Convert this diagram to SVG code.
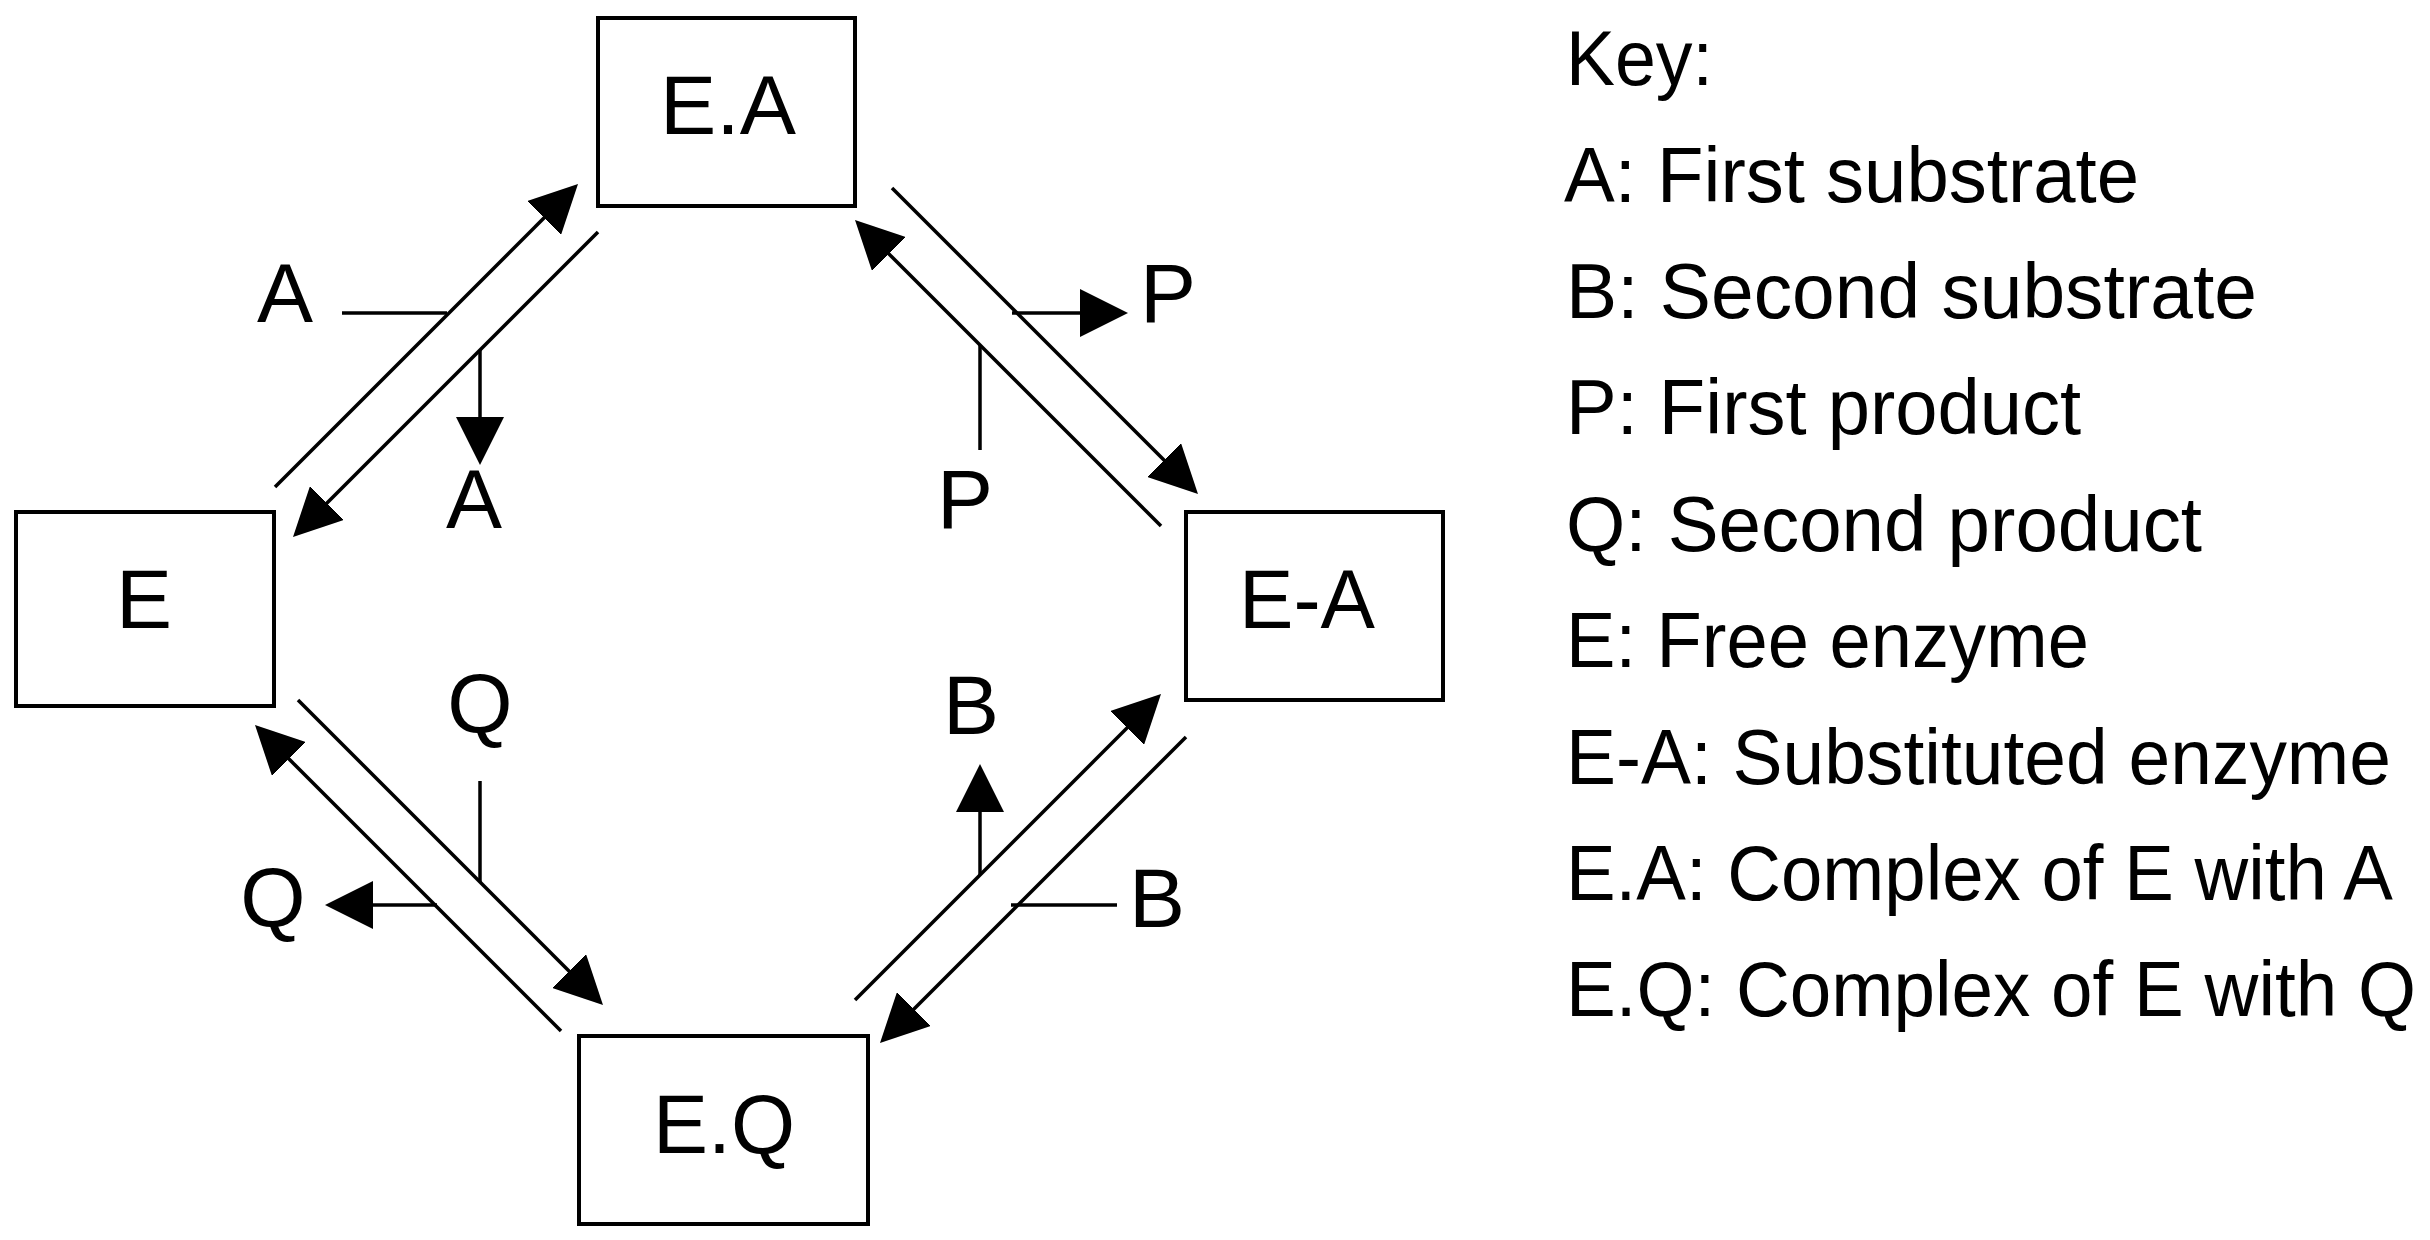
<svg xmlns="http://www.w3.org/2000/svg" width="2430" height="1240" viewBox="0 0 2430 1240">
<style>
  .box { fill: #ffffff; stroke: #000000; stroke-width: 4; }
  .lbl { font-family: "Liberation Sans", Arial, sans-serif; font-size: 84px; fill: #000000; text-anchor: middle; }
  .key { font-family: "Liberation Sans", Arial, sans-serif; font-size: 77px; fill: #000000; }
  .ln { fill: none; stroke: #000000; stroke-width: 3.5; }
  .arr { fill: none; stroke: #000000; stroke-width: 3.5; marker-end: url(#ah); }
</style>
<defs>
  <marker id="ah" markerUnits="userSpaceOnUse" markerWidth="48" markerHeight="48" viewBox="0 0 48 48" refX="38" refY="24" orient="auto">
    <path d="M0,0 L48,24 L0,48 Z" fill="#000000"/>
  </marker>
</defs>
<rect width="2430" height="1240" fill="#ffffff"/>

<g id="node-EA">
  <rect class="box" x="598" y="18" width="257" height="188"/>
  <text class="lbl" x="728" y="134" textLength="136" lengthAdjust="spacingAndGlyphs">E.A</text>
</g>
<g id="node-E">
  <rect class="box" x="16" y="512" width="258" height="194"/>
  <text class="lbl" x="144" y="628">E</text>
</g>
<g id="node-E-A">
  <rect class="box" x="1186" y="512" width="257" height="188"/>
  <text class="lbl" x="1307" y="628" textLength="136" lengthAdjust="spacingAndGlyphs">E-A</text>
</g>
<g id="node-EQ">
  <rect class="box" x="579" y="1036" width="289" height="188"/>
  <text class="lbl" x="724" y="1153" textLength="142" lengthAdjust="spacingAndGlyphs">E.Q</text>
</g>

<g id="connectors">
  <!-- E <-> E.A -->
  <line class="arr" x1="275" y1="487" x2="570.93" y2="191.07"/>
  <line class="arr" x1="598" y1="232" x2="300.07" y2="529.93"/>
  <line class="ln" x1="342" y1="313" x2="447" y2="313"/>
  <line class="arr" x1="480" y1="350" x2="480" y2="455"/>
  <!-- E.A <-> E-A -->
  <line class="arr" x1="892" y1="188" x2="1190.93" y2="486.93"/>
  <line class="arr" x1="1161" y1="526" x2="862.07" y2="227.07"/>
  <line class="arr" x1="1012" y1="313" x2="1118" y2="313"/>
  <line class="ln" x1="980" y1="345" x2="980" y2="450"/>
  <!-- E.Q <-> E-A -->
  <line class="arr" x1="855" y1="1000" x2="1153.93" y2="701.07"/>
  <line class="arr" x1="1186" y1="737" x2="887.07" y2="1035.93"/>
  <line class="arr" x1="980" y1="875" x2="980" y2="774"/>
  <line class="ln" x1="1011" y1="905" x2="1117" y2="905"/>
  <!-- E <-> E.Q -->
  <line class="arr" x1="298" y1="700" x2="595.93" y2="997.93"/>
  <line class="arr" x1="561" y1="1031" x2="262.07" y2="732.07"/>
  <line class="ln" x1="480" y1="781" x2="480" y2="882"/>
  <line class="arr" x1="437" y1="905" x2="335" y2="905"/>
</g>

<g id="side-labels">
  <text class="lbl" x="285" y="322">A</text>
  <text class="lbl" x="474" y="528">A</text>
  <text class="lbl" x="1168" y="322">P</text>
  <text class="lbl" x="965" y="528">P</text>
  <text class="lbl" x="480" y="732">Q</text>
  <text class="lbl" x="273" y="926">Q</text>
  <text class="lbl" x="971" y="734">B</text>
  <text class="lbl" x="1157" y="927">B</text>
</g>

<g id="key">
  <text class="key" x="1566" y="85" textLength="147" lengthAdjust="spacingAndGlyphs">Key:</text>
  <text class="key" x="1564" y="202" textLength="575" lengthAdjust="spacingAndGlyphs">A: First substrate</text>
  <text class="key" x="1566" y="318" textLength="691" lengthAdjust="spacingAndGlyphs">B: Second substrate</text>
  <text class="key" x="1566" y="434" textLength="515" lengthAdjust="spacingAndGlyphs">P: First product</text>
  <text class="key" x="1566" y="551" textLength="636" lengthAdjust="spacingAndGlyphs">Q: Second product</text>
  <text class="key" x="1566" y="667" textLength="523" lengthAdjust="spacingAndGlyphs">E: Free enzyme</text>
  <text class="key" x="1566" y="784" textLength="825" lengthAdjust="spacingAndGlyphs">E-A: Substituted enzyme</text>
  <text class="key" x="1566" y="900" textLength="827" lengthAdjust="spacingAndGlyphs">E.A: Complex of E with A</text>
  <text class="key" x="1566" y="1016" textLength="850" lengthAdjust="spacingAndGlyphs">E.Q: Complex of E with Q</text>
</g>
</svg>
